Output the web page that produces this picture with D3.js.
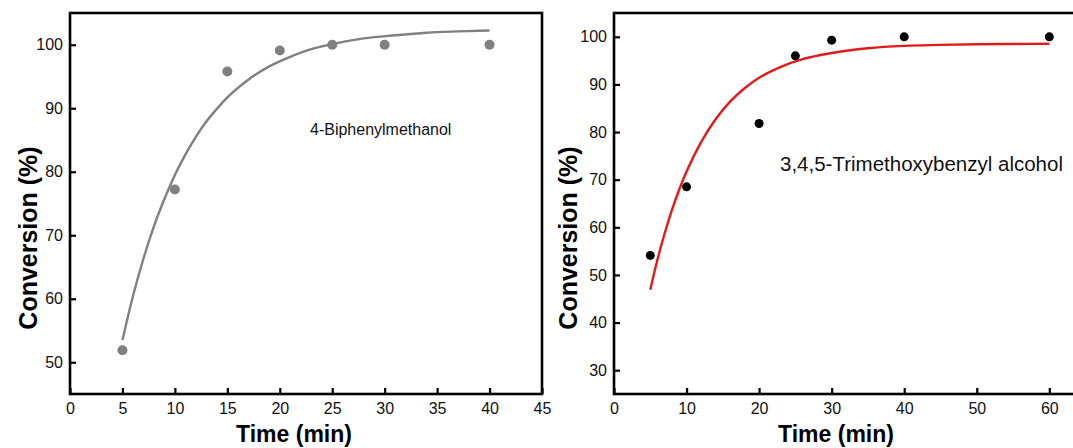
<!DOCTYPE html>
<html>
<head>
<meta charset="utf-8">
<script src="https://cdn.jsdelivr.net/npm/d3@7"></script>
<style>
  body { margin: 0; background: #fff; }
  svg { font-family: "Liberation Sans", Arial, sans-serif; display: block; }
</style>
</head>
<body>
<svg id="chart" width="1073" height="448"></svg>
<script>
// left panel: 4-Biphenylmethanol
const leftTime = [5, 10, 15, 20, 25, 30, 40]
const leftConv = [51.9, 77.2, 95.8, 99.1, 100, 100, 100]
const leftFitTime = [5, 6, 7, 8, 9, 10, 11, 12, 13, 14, 15, 17, 19, 21, 23, 25, 28, 31, 34, 37, 40]
const leftFitConv = [53.5, 60.4, 66.3, 71.4, 75.7, 79.5, 82.7, 85.5, 87.9, 89.9, 91.7, 94.5, 96.6, 98.1, 99.3, 100.1, 101.0, 101.5, 101.9, 102.1, 102.25]
const leftXTicks = [0, 5, 10, 15, 20, 25, 30, 35, 40, 45]
const leftYTicks = [50, 60, 70, 80, 90, 100]

// right panel: 3,4,5-Trimethoxybenzyl alcohol
const rightTime = [5, 10, 20, 25, 30, 40, 60]
const rightConv = [54.1, 68.5, 81.8, 96.0, 99.3, 100, 100]
const rightFitTime = [5, 6, 7, 8, 9, 10, 12, 14, 16, 18, 20, 23, 26, 30, 35, 40, 45, 50, 55, 60]
const rightFitConv = [46.9, 53.3, 58.8, 63.7, 68.0, 71.7, 77.9, 82.7, 86.4, 89.2, 91.4, 93.7, 95.3, 96.6, 97.6, 98.1, 98.3, 98.45, 98.5, 98.55]
const rightXTicks = [0, 10, 20, 30, 40, 50, 60]
const rightYTicks = [30, 40, 50, 60, 70, 80, 90, 100]

const svg = d3.select("#chart")

function panel(opt) {
  const x = d3.scaleLinear().domain(opt.xDomain).range([opt.left, opt.right])
  const y = d3.scaleLinear().domain(opt.yDomain).range([opt.bottom, opt.top])
  const g = svg.append("g")

  // x axis, ticks pointing inward
  const ax = g.append("g")
    .attr("transform", `translate(0,${opt.bottom})`)
    .call(d3.axisBottom(x).tickValues(opt.xTicks).tickSize(-6).tickPadding(9))
  const ay = g.append("g")
    .attr("transform", `translate(${opt.left},0)`)
    .call(d3.axisLeft(y).tickValues(opt.yTicks).tickSize(-6).tickPadding(7))
  for (const a of [ax, ay]) {
    a.select(".domain").remove()
    a.selectAll(".tick line").attr("stroke", "#000").attr("stroke-width", 2.2)
    a.selectAll(".tick text").attr("fill", "#111").style("font-size", "16px")
  }

  // frame
  g.append("rect")
    .attr("x", opt.left).attr("y", opt.top)
    .attr("width", opt.right - opt.left).attr("height", opt.bottom - opt.top)
    .attr("fill", "none").attr("stroke", "#000").attr("stroke-width", 2.6)

  const line = d3.line()
    .x(d => x(d[0]))
    .y(d => y(d[1]))
    .curve(d3.curveMonotoneX)

  g.append("path")
    .datum(d3.zip(opt.fitX, opt.fitY))
    .attr("d", line)
    .attr("fill", "none")
    .attr("stroke", opt.lineColor)
    .attr("stroke-width", 2.4)

  g.selectAll("circle.pt")
    .data(d3.zip(opt.ptX, opt.ptY))
    .enter().append("circle")
    .attr("class", "pt")
    .attr("cx", d => x(d[0]))
    .attr("cy", d => y(d[1]))
    .attr("r", opt.r)
    .attr("fill", opt.ptColor)

  g.append("text")
    .attr("x", opt.labelX).attr("y", opt.labelY)
    .style("font-size", opt.labelSize + "px")
    .attr("fill", "#111")
    .text(opt.label)

  g.append("text")
    .attr("x", opt.xTitleX).attr("y", 442)
    .attr("text-anchor", "middle")
    .style("font-size", "23px").style("font-weight", "bold")
    .text("Time (min)")

  g.append("text")
    .attr("transform", `translate(${opt.yTitleX},238) rotate(-90)`)
    .attr("text-anchor", "middle")
    .style("font-size", "25px").style("font-weight", "bold")
    .text("Conversion (%)")
}

panel({
  xDomain: [0, 45], yDomain: [45, 105],
  left: 70, right: 542, top: 13, bottom: 394,
  xTicks: leftXTicks, yTicks: leftYTicks,
  fitX: leftFitTime, fitY: leftFitConv, ptX: leftTime, ptY: leftConv,
  lineColor: "#808080", ptColor: "#808080", r: 5,
  label: "4-Biphenylmethanol", labelX: 310, labelY: 135, labelSize: 16,
  xTitleX: 294, yTitleX: 37
})

panel({
  xDomain: [0, 65], yDomain: [25, 105],
  left: 614, right: 1085.6, top: 13, bottom: 394,
  xTicks: rightXTicks, yTicks: rightYTicks,
  fitX: rightFitTime, fitY: rightFitConv, ptX: rightTime, ptY: rightConv,
  lineColor: "#e31a1a", ptColor: "#000", r: 4.5,
  label: "3,4,5-Trimethoxybenzyl alcohol", labelX: 780, labelY: 171, labelSize: 20.5,
  xTitleX: 836, yTitleX: 577
})
</script>
</body>
</html>
